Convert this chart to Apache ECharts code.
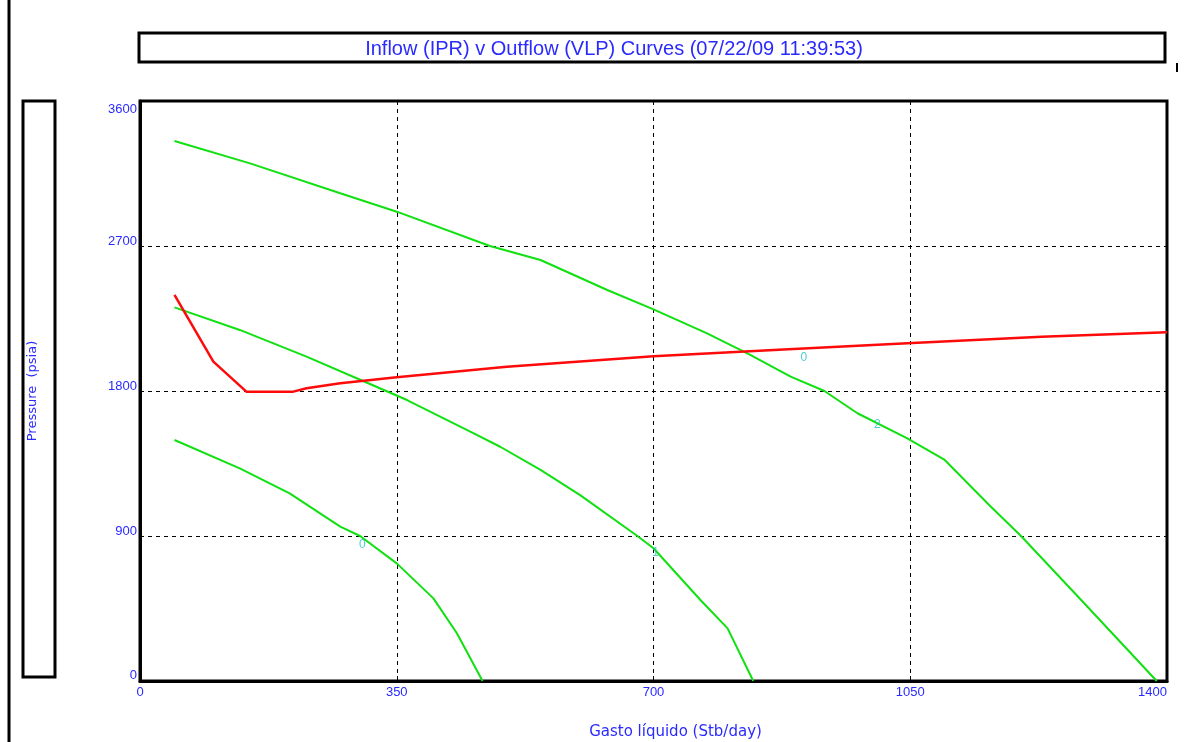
<!DOCTYPE html>
<html>
<head>
<meta charset="utf-8">
<script src="https://cdn.jsdelivr.net/npm/echarts@6/dist/echarts.min.js"></script>
<style>
html,body{margin:0;padding:0;background:#fff;}
#chart{width:1196px;height:742px;}
</style>
</head>
<body>
<div id="chart"></div>
<script>
// ---- data ----
const titleText = 'Inflow (IPR) v Outflow (VLP) Curves (07/22/09 11:39:53)';
const xAxisName = 'Gasto líquido (Stb/day)';
const yAxisName = 'Pressure  (psia)';
const xTicks = [0, 350, 700, 1050, 1400];
const yTicks = [0, 900, 1800, 2700, 3600];

// IPR curves (green)
const ipr0 = [[47,1496],[136,1320],[204,1165],[273,958],[300,900],[350,730],[400,513],[432,296],[467,0]];
const ipr1 = [[47,2319],[136,2179],[227,2013],[304,1862],[364,1744],[455,1537],[491,1454],[546,1310],[600,1154],[678,900],[700,824],[764,503],[801,327],[836,0]];
const ipr2 = [[47,3352],[150,3213],[273,3027],[350,2913],[477,2700],[546,2613],[637,2427],[700,2307],[773,2158],[828,2034],[887,1889],[933,1800],[978,1662],[1046,1506],[1097,1372],[1160,1082],[1201,900],[1283,503],[1386,0]];
// VLP curve (red)
const vlp0 = [[47,2396],[100,1982],[145,1796],[209,1796],[227,1817],[273,1848],[350,1885],[500,1951],[700,2015],[864,2054],[1046,2096],[1229,2137],[1400,2164]];

// curve tags
const tagTexts = ['0', '1', '2', '0'];
const tagPoints = [[303,844],[703,794],[1005,1589],[905,2005]];

// ---- chart ----
const chart = echarts.init(document.getElementById('chart'), null, {renderer:'canvas'});
const blue = '#2a2aff';
const green = '#11e011';
const red = '#ff0a0a';
const cyan = '#1fbfc8';
const font = '"Liberation Sans", Arial, sans-serif';
const font2 = '"DejaVu Sans", Verdana, sans-serif';

function line(name, data, color, width) {
  return {
    name: name, type: 'line', data: data, showSymbol: false, symbol: 'none',
    lineStyle: {color: color, width: width}, silent: true, animation: false, z: 3
  };
}

const series = [
  line('IPR 0', ipr0, green, 2),
  line('IPR 1', ipr1, green, 2),
  line('IPR 2', ipr2, green, 2),
  line('VLP 0', vlp0, red, 2.5),
  {
    name: 'tags', type: 'scatter', symbolSize: 0, silent: true, z: 5,
    data: tagPoints.map(function (p, i) { return {value: p, name: tagTexts[i]}; }),
    label: {show: true, position: 'inside', formatter: '{b}', color: cyan, fontSize: 12, fontFamily: font}
  }
];

const option = {
  animation: false,
  backgroundColor: '#fff',
  textStyle: {fontFamily: font},
  grid: {left: 140, right: 29, top: 101, bottom: 61, show: true, borderColor: '#000', borderWidth: 3,
         backgroundColor: 'transparent', containLabel: false, outerBoundsMode: 'none'},
  xAxis: {
    type: 'value', min: xTicks[0], max: xTicks[xTicks.length-1], interval: xTicks[1]-xTicks[0],
    name: xAxisName, nameLocation: 'middle', nameGap: 44,
    nameTextStyle: {color: blue, fontSize: 15, fontFamily: font2, padding: [0, 0, 0, 44]},
    axisLine: {show: true, lineStyle: {color: '#000', width: 3}},
    axisTick: {show: true, inside: true, length: 5, lineStyle: {color: '#000', width: 1}},
    axisLabel: {color: blue, fontSize: 13, margin: 5, fontFamily: font, alignMaxLabel: 'right',
                formatter: function (v) { return String(v); }},
    splitLine: {show: true, lineStyle: {color: '#000', width: 1, type: [4, 4]}}
  },
  yAxis: {
    type: 'value', min: yTicks[0], max: yTicks[yTicks.length-1], interval: yTicks[1]-yTicks[0],
    name: yAxisName, nameLocation: 'middle', nameGap: 101, nameRotate: 90,
    nameTextStyle: {color: blue, fontSize: 13, fontFamily: font2},
    axisLine: {show: true, lineStyle: {color: '#000', width: 3}},
    axisTick: {show: false},
    axisLabel: {
      color: blue, fontSize: 13, margin: 3, fontFamily: font,
      formatter: function (v) {
        if (v === yTicks[yTicks.length-1]) return '{top|' + v + '}';
        if (v === yTicks[0]) return '{bot|' + v + '}';
        return '{mid|' + v + '}';
      },
      rich: {
        top: {color: blue, fontSize: 13, fontFamily: font, padding: [16, 0, 0, 0]},
        mid: {color: blue, fontSize: 13, fontFamily: font, padding: [0, 0, 9, 0]},
        bot: {color: blue, fontSize: 13, fontFamily: font, padding: [0, 0, 12, 0]}
      }
    },
    splitLine: {show: true, lineStyle: {color: '#000', width: 1, type: [4, 4]}}
  },
  series: series,
  graphic: [
    {type: 'line', shape: {x1: 9, y1: 0, x2: 9, y2: 742}, style: {stroke: '#000', lineWidth: 3}, silent: true},
    {type: 'rect', shape: {x: 139, y: 33, width: 1026, height: 29}, style: {fill: '#fff', stroke: '#000', lineWidth: 3}, silent: true},
    {type: 'text', x: 614, y: 49, style: {text: titleText, fill: blue, font: '20px ' + font, textAlign: 'center', textVerticalAlign: 'middle'}, silent: true},
    {type: 'line', shape: {x1: 1177, y1: 63, x2: 1177, y2: 72}, style: {stroke: '#000', lineWidth: 2}, silent: true},
    {type: 'rect', shape: {x: 23, y: 101, width: 32, height: 576}, style: {fill: 'transparent', stroke: '#000', lineWidth: 3}, silent: true, z: -1}
  ]
};
chart.setOption(option);
</script>
</body>
</html>
